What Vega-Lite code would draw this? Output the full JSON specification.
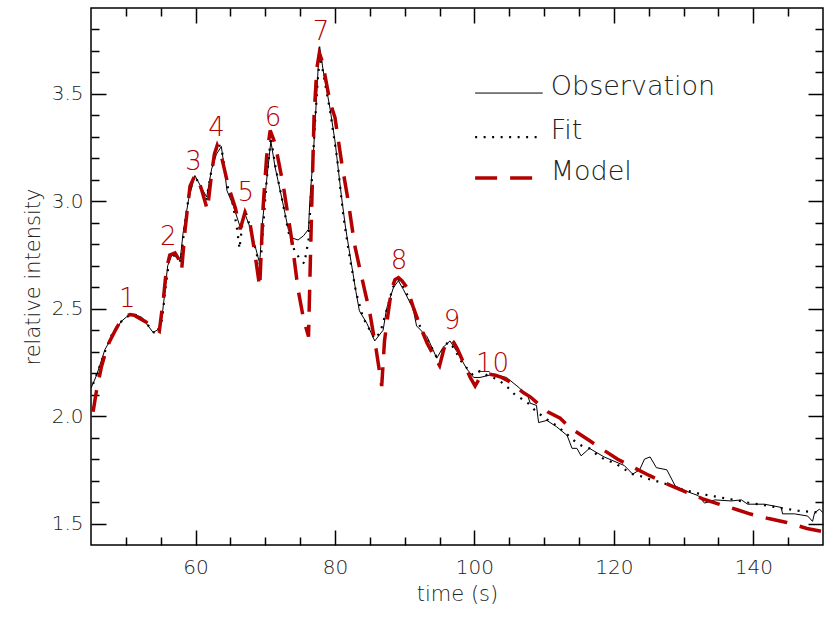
{
  "$schema": "https://vega.github.io/schema/vega-lite/v6.json",
  "width": 732,
  "height": 537,
  "autosize": {"type": "none"},
  "padding": {"left": 91, "top": 8, "right": 3, "bottom": 72},
  "background": "white",
  "config": {
    "view": {"stroke": "#000", "strokeWidth": 1.5},
    "axis": {"domain": false, "grid": false, "ticks": true, "zindex": 1, "tickColor": "#000", "tickWidth": 1.5,
      "labelFont": "DejaVu Sans", "labelFontWeight": 200, "labelFontSize": 20, "labelColor": "#222",
      "titleFont": "DejaVu Sans", "titleFontWeight": 200, "titleFontSize": 21, "titleColor": "#222"}
  },
  "datasets": {
    "obs": [
      {"t": 45.0, "v": 2.13}, {"t": 45.8, "v": 2.19}, {"t": 47.0, "v": 2.31}, {"t": 47.7, "v": 2.35},
      {"t": 48.6, "v": 2.40}, {"t": 49.3, "v": 2.44}, {"t": 50.4, "v": 2.47}, {"t": 51.5, "v": 2.47},
      {"t": 52.3, "v": 2.46}, {"t": 53.2, "v": 2.42}, {"t": 53.9, "v": 2.39}, {"t": 54.5, "v": 2.40},
      {"t": 55.1, "v": 2.44}, {"t": 55.5, "v": 2.55}, {"t": 56.0, "v": 2.70}, {"t": 56.6, "v": 2.75},
      {"t": 57.3, "v": 2.74}, {"t": 57.8, "v": 2.73}, {"t": 58.2, "v": 2.85}, {"t": 59.0, "v": 3.01},
      {"t": 59.9, "v": 3.12}, {"t": 60.9, "v": 3.06}, {"t": 61.6, "v": 3.02}, {"t": 62.3, "v": 3.15},
      {"t": 63.0, "v": 3.22}, {"t": 63.7, "v": 3.255}, {"t": 64.1, "v": 3.16}, {"t": 64.5, "v": 3.05},
      {"t": 65.4, "v": 2.98}, {"t": 66.4, "v": 2.88}, {"t": 67.1, "v": 2.94}, {"t": 67.8, "v": 2.88},
      {"t": 68.8, "v": 2.76}, {"t": 69.2, "v": 2.71}, {"t": 69.5, "v": 2.87}, {"t": 70.2, "v": 3.10},
      {"t": 70.8, "v": 3.28}, {"t": 71.4, "v": 3.16}, {"t": 72.4, "v": 3.01}, {"t": 73.3, "v": 2.87},
      {"t": 73.8, "v": 2.83}, {"t": 74.7, "v": 2.82}, {"t": 75.5, "v": 2.84}, {"t": 76.2, "v": 2.87},
      {"t": 76.4, "v": 3.01}, {"t": 76.9, "v": 3.22}, {"t": 77.6, "v": 3.63}, {"t": 77.8, "v": 3.72},
      {"t": 78.3, "v": 3.61}, {"t": 79.3, "v": 3.43}, {"t": 80.0, "v": 3.28}, {"t": 80.9, "v": 3.03},
      {"t": 81.5, "v": 2.88}, {"t": 82.3, "v": 2.72}, {"t": 83.0, "v": 2.58}, {"t": 83.5, "v": 2.49},
      {"t": 84.6, "v": 2.43}, {"t": 85.7, "v": 2.35}, {"t": 86.9, "v": 2.40}, {"t": 87.4, "v": 2.50},
      {"t": 88.4, "v": 2.60}, {"t": 89.1, "v": 2.63}, {"t": 89.8, "v": 2.59}, {"t": 91.2, "v": 2.50},
      {"t": 91.7, "v": 2.42}, {"t": 93.2, "v": 2.37}, {"t": 94.6, "v": 2.27}, {"t": 95.5, "v": 2.32},
      {"t": 96.5, "v": 2.35}, {"t": 97.5, "v": 2.30}, {"t": 98.9, "v": 2.22}, {"t": 99.9, "v": 2.18},
      {"t": 100.8, "v": 2.18}, {"t": 102.7, "v": 2.195}, {"t": 104.6, "v": 2.18}, {"t": 106.5, "v": 2.13},
      {"t": 107.7, "v": 2.09}, {"t": 108.0, "v": 2.06}, {"t": 108.9, "v": 2.05}, {"t": 109.2, "v": 1.97},
      {"t": 110.4, "v": 1.98}, {"t": 111.8, "v": 1.95}, {"t": 113.3, "v": 1.91}, {"t": 114.0, "v": 1.85},
      {"t": 114.7, "v": 1.85}, {"t": 115.3, "v": 1.815}, {"t": 116.5, "v": 1.85}, {"t": 118.6, "v": 1.81},
      {"t": 121.5, "v": 1.77}, {"t": 122.7, "v": 1.73}, {"t": 123.7, "v": 1.75}, {"t": 124.4, "v": 1.80},
      {"t": 125.2, "v": 1.81}, {"t": 126.1, "v": 1.76}, {"t": 127.6, "v": 1.75}, {"t": 128.8, "v": 1.675},
      {"t": 130.4, "v": 1.65}, {"t": 132.1, "v": 1.63}, {"t": 133.0, "v": 1.595}, {"t": 134.5, "v": 1.61},
      {"t": 136.8, "v": 1.605}, {"t": 138.3, "v": 1.61}, {"t": 139.2, "v": 1.59}, {"t": 141.6, "v": 1.59},
      {"t": 144.0, "v": 1.575}, {"t": 144.2, "v": 1.545}, {"t": 145.9, "v": 1.545}, {"t": 147.8, "v": 1.535},
      {"t": 148.5, "v": 1.51}, {"t": 148.8, "v": 1.55}, {"t": 149.5, "v": 1.567}, {"t": 150.0, "v": 1.55}
    ],
    "fit": [
      {"t": 45.3, "v": 2.15}, {"t": 46.0, "v": 2.21}, {"t": 47.0, "v": 2.30}, {"t": 48.0, "v": 2.38},
      {"t": 49.0, "v": 2.43}, {"t": 50.0, "v": 2.46}, {"t": 51.0, "v": 2.475}, {"t": 52.0, "v": 2.465},
      {"t": 53.0, "v": 2.43}, {"t": 54.0, "v": 2.39}, {"t": 54.5, "v": 2.385}, {"t": 55.2, "v": 2.45},
      {"t": 55.7, "v": 2.60}, {"t": 56.2, "v": 2.72}, {"t": 56.8, "v": 2.75}, {"t": 57.5, "v": 2.73},
      {"t": 57.9, "v": 2.72}, {"t": 58.4, "v": 2.88}, {"t": 59.1, "v": 3.04}, {"t": 59.9, "v": 3.12},
      {"t": 60.8, "v": 3.06}, {"t": 61.5, "v": 3.00}, {"t": 62.2, "v": 3.13}, {"t": 62.8, "v": 3.22},
      {"t": 63.3, "v": 3.27}, {"t": 63.8, "v": 3.23}, {"t": 64.5, "v": 3.08}, {"t": 65.4, "v": 2.98},
      {"t": 66.0, "v": 2.86}, {"t": 66.3, "v": 2.78}, {"t": 66.8, "v": 2.92}, {"t": 67.2, "v": 2.95},
      {"t": 67.8, "v": 2.88}, {"t": 68.8, "v": 2.75}, {"t": 69.3, "v": 2.70}, {"t": 69.7, "v": 2.88},
      {"t": 70.2, "v": 3.10}, {"t": 70.8, "v": 3.30}, {"t": 71.4, "v": 3.17}, {"t": 72.4, "v": 3.01},
      {"t": 73.3, "v": 2.86}, {"t": 74.2, "v": 2.77}, {"t": 75.0, "v": 2.73}, {"t": 75.6, "v": 2.71},
      {"t": 76.2, "v": 2.82}, {"t": 76.6, "v": 3.05}, {"t": 77.1, "v": 3.35}, {"t": 77.6, "v": 3.60},
      {"t": 77.9, "v": 3.67}, {"t": 78.4, "v": 3.58}, {"t": 79.3, "v": 3.42}, {"t": 80.3, "v": 3.20},
      {"t": 81.2, "v": 2.93}, {"t": 82.0, "v": 2.76}, {"t": 83.0, "v": 2.58}, {"t": 84.0, "v": 2.46},
      {"t": 85.0, "v": 2.40}, {"t": 85.7, "v": 2.36}, {"t": 86.5, "v": 2.39}, {"t": 87.2, "v": 2.47},
      {"t": 88.3, "v": 2.60}, {"t": 89.2, "v": 2.635}, {"t": 90.0, "v": 2.59}, {"t": 91.0, "v": 2.52},
      {"t": 92.0, "v": 2.43}, {"t": 93.2, "v": 2.36}, {"t": 94.5, "v": 2.28}, {"t": 95.3, "v": 2.30},
      {"t": 96.2, "v": 2.345}, {"t": 97.0, "v": 2.32}, {"t": 98.0, "v": 2.26}, {"t": 99.0, "v": 2.22},
      {"t": 99.8, "v": 2.19}, {"t": 100.8, "v": 2.21}, {"t": 101.8, "v": 2.19}, {"t": 103.0, "v": 2.175},
      {"t": 104.0, "v": 2.155}, {"t": 104.9, "v": 2.13}, {"t": 105.8, "v": 2.10}, {"t": 106.8, "v": 2.08},
      {"t": 107.7, "v": 2.06}, {"t": 108.9, "v": 2.02}, {"t": 110.4, "v": 1.985}, {"t": 111.8, "v": 1.955},
      {"t": 113.3, "v": 1.915}, {"t": 114.5, "v": 1.88}, {"t": 115.5, "v": 1.86}, {"t": 116.5, "v": 1.85},
      {"t": 117.6, "v": 1.82}, {"t": 118.6, "v": 1.80}, {"t": 119.8, "v": 1.785}, {"t": 120.7, "v": 1.77},
      {"t": 121.9, "v": 1.745}, {"t": 122.7, "v": 1.73}, {"t": 123.9, "v": 1.72}, {"t": 125.2, "v": 1.705},
      {"t": 126.4, "v": 1.695}, {"t": 127.6, "v": 1.683}, {"t": 129.7, "v": 1.66}, {"t": 132.1, "v": 1.64},
      {"t": 134.5, "v": 1.626}, {"t": 136.8, "v": 1.613}, {"t": 139.2, "v": 1.598}, {"t": 141.6, "v": 1.585},
      {"t": 144.0, "v": 1.572}, {"t": 146.4, "v": 1.56}, {"t": 148.8, "v": 1.553}, {"t": 150.0, "v": 1.55}
    ],
    "model": [
      {"t": 45.3, "v": 2.02}, {"t": 45.8, "v": 2.12}, {"t": 46.5, "v": 2.23}, {"t": 47.2, "v": 2.31},
      {"t": 47.7, "v": 2.35}, {"t": 48.5, "v": 2.40}, {"t": 49.2, "v": 2.44}, {"t": 50.0, "v": 2.465},
      {"t": 50.6, "v": 2.473}, {"t": 51.2, "v": 2.47}, {"t": 51.8, "v": 2.458}, {"t": 52.8, "v": 2.44},
      {"t": 53.7, "v": 2.42}, {"t": 54.8, "v": 2.395}, {"t": 55.4, "v": 2.55}, {"t": 55.8, "v": 2.68},
      {"t": 56.3, "v": 2.75}, {"t": 57.05, "v": 2.76}, {"t": 57.6, "v": 2.73}, {"t": 58.0, "v": 2.68},
      {"t": 58.5, "v": 2.87}, {"t": 59.2, "v": 3.07}, {"t": 59.9, "v": 3.12}, {"t": 60.4, "v": 3.10},
      {"t": 60.9, "v": 3.05}, {"t": 61.7, "v": 2.96}, {"t": 62.3, "v": 3.13}, {"t": 62.7, "v": 3.22},
      {"t": 63.1, "v": 3.26}, {"t": 63.7, "v": 3.21}, {"t": 64.7, "v": 3.07}, {"t": 65.7, "v": 2.97},
      {"t": 66.4, "v": 2.87}, {"t": 67.1, "v": 2.95}, {"t": 67.8, "v": 2.90}, {"t": 68.5, "v": 2.76},
      {"t": 69.2, "v": 2.60}, {"t": 69.7, "v": 2.98}, {"t": 70.2, "v": 3.21}, {"t": 70.7, "v": 3.33},
      {"t": 71.4, "v": 3.27}, {"t": 72.6, "v": 3.07}, {"t": 73.8, "v": 2.82}, {"t": 74.7, "v": 2.59},
      {"t": 75.5, "v": 2.45}, {"t": 76.2, "v": 2.37}, {"t": 76.6, "v": 2.90}, {"t": 77.0, "v": 3.40},
      {"t": 77.4, "v": 3.62}, {"t": 77.75, "v": 3.69}, {"t": 78.2, "v": 3.65}, {"t": 78.6, "v": 3.58},
      {"t": 79.3, "v": 3.46}, {"t": 80.0, "v": 3.39}, {"t": 81.0, "v": 3.17}, {"t": 81.9, "v": 3.00},
      {"t": 82.8, "v": 2.80}, {"t": 83.6, "v": 2.68}, {"t": 84.3, "v": 2.58}, {"t": 85.0, "v": 2.48},
      {"t": 85.9, "v": 2.31}, {"t": 86.7, "v": 2.14}, {"t": 87.1, "v": 2.35}, {"t": 87.5, "v": 2.45},
      {"t": 88.1, "v": 2.59}, {"t": 88.6, "v": 2.635}, {"t": 89.1, "v": 2.645}, {"t": 89.6, "v": 2.63},
      {"t": 90.3, "v": 2.60}, {"t": 91.2, "v": 2.51}, {"t": 92.2, "v": 2.42}, {"t": 93.2, "v": 2.34},
      {"t": 94.2, "v": 2.28}, {"t": 95.0, "v": 2.235}, {"t": 95.6, "v": 2.31}, {"t": 96.0, "v": 2.345},
      {"t": 96.5, "v": 2.357}, {"t": 97.0, "v": 2.345}, {"t": 97.6, "v": 2.31}, {"t": 98.7, "v": 2.23},
      {"t": 99.4, "v": 2.18}, {"t": 100.1, "v": 2.14}, {"t": 100.8, "v": 2.18}, {"t": 101.5, "v": 2.19},
      {"t": 102.2, "v": 2.195}, {"t": 103.0, "v": 2.19}, {"t": 103.9, "v": 2.18}, {"t": 104.8, "v": 2.165},
      {"t": 105.6, "v": 2.148}, {"t": 107.0, "v": 2.11}, {"t": 108.0, "v": 2.09}, {"t": 109.4, "v": 2.05},
      {"t": 110.5, "v": 2.02}, {"t": 112.3, "v": 1.99}, {"t": 113.7, "v": 1.946}, {"t": 116.6, "v": 1.884},
      {"t": 118.0, "v": 1.853}, {"t": 120.5, "v": 1.80}, {"t": 123.3, "v": 1.753}, {"t": 125.0, "v": 1.725},
      {"t": 128.1, "v": 1.678}, {"t": 130.5, "v": 1.645}, {"t": 132.9, "v": 1.613}, {"t": 135.3, "v": 1.588},
      {"t": 137.7, "v": 1.564}, {"t": 139.6, "v": 1.544}, {"t": 142.2, "v": 1.523}, {"t": 144.8, "v": 1.505},
      {"t": 147.7, "v": 1.477}, {"t": 150.0, "v": 1.462}
    ],
    "peaks": [
      {"t": 50.2, "v": 2.543, "label": "1"}, {"t": 56.1, "v": 2.835, "label": "2"},
      {"t": 59.7, "v": 3.184, "label": "3"}, {"t": 63.0, "v": 3.34, "label": "4"},
      {"t": 67.2, "v": 3.04, "label": "5"}, {"t": 71.1, "v": 3.39, "label": "6"},
      {"t": 78.0, "v": 3.79, "label": "7"}, {"t": 89.2, "v": 2.72, "label": "8"},
      {"t": 96.8, "v": 2.441, "label": "9"}, {"t": 102.6, "v": 2.241, "label": "10"}
    ],
    "legend": [
      {"series": "Observation", "t": 100.1, "t2": 109.8, "v": 3.504},
      {"series": "Fit", "t": 100.1, "t2": 109.8, "v": 3.299},
      {"series": "Model", "t": 100.1, "t2": 109.8, "v": 3.109}
    ]
  },
  "layer": [
    {
      "data": {"name": "obs"},
      "mark": {"type": "line", "clip": true, "color": "#000000", "strokeWidth": 1},
      "encoding": {
        "x": {"field": "t", "type": "quantitative",
              "scale": {"domain": [45, 150], "nice": false, "zero": false},
              "axis": {"orient": "bottom", "values": [60, 80, 100, 120, 140], "format": "d", "offset": -15, "tickSize": 15, "labelPadding": 12, "title": "time (s)", "titlePadding": 6}},
        "y": {"field": "v", "type": "quantitative",
              "scale": {"domain": [1.4, 3.9], "nice": false, "zero": false},
              "axis": {"orient": "left", "values": [1.5, 2.0, 2.5, 3.0, 3.5], "format": ".1f", "offset": -15, "tickSize": 15, "labelPadding": 8, "title": "relative intensity", "titlePadding": 8}}
      }
    },
    {
      "data": {"name": "fit"},
      "mark": {"type": "line", "clip": true, "color": "#000000", "strokeWidth": 2.2, "strokeDash": [2, 6.5]},
      "encoding": {
        "x": {"field": "t", "type": "quantitative",
              "axis": {"orient": "top", "values": [60, 80, 100, 120, 140], "labels": false, "offset": -15, "tickSize": 15, "title": null}},
        "y": {"field": "v", "type": "quantitative",
              "axis": {"orient": "right", "values": [1.5, 2.0, 2.5, 3.0, 3.5], "labels": false, "offset": -15, "tickSize": 15, "title": null}}
      }
    },
    {
      "data": {"name": "model"},
      "mark": {"type": "line", "clip": true, "color": "#b40000", "strokeWidth": 3.5, "strokeDash": [22, 13]},
      "encoding": {
        "x": {"field": "t", "type": "quantitative",
              "axis": {"orient": "top", "values": [50, 55, 65, 70, 75, 85, 90, 95, 105, 110, 115, 125, 130, 135, 145], "labels": false, "offset": -8, "tickSize": 8, "title": null}},
        "y": {"field": "v", "type": "quantitative",
              "axis": {"orient": "right", "values": [1.6, 1.7, 1.8, 1.9, 2.1, 2.2, 2.3, 2.4, 2.6, 2.7, 2.8, 2.9, 3.1, 3.2, 3.3, 3.4, 3.6, 3.7, 3.8], "labels": false, "offset": -8, "tickSize": 8, "title": null}}
      }
    },
    {
      "data": {"name": "peaks"},
      "mark": {"type": "text", "font": "DejaVu Sans", "fontSize": 26, "fontWeight": 200, "color": "#b40000", "align": "center", "baseline": "middle"},
      "encoding": {
        "x": {"field": "t", "type": "quantitative",
              "axis": {"orient": "bottom", "values": [50, 55, 65, 70, 75, 85, 90, 95, 105, 110, 115, 125, 130, 135, 145], "labels": false, "offset": -8, "tickSize": 8, "title": null}},
        "y": {"field": "v", "type": "quantitative",
              "axis": {"orient": "left", "values": [1.6, 1.7, 1.8, 1.9, 2.1, 2.2, 2.3, 2.4, 2.6, 2.7, 2.8, 2.9, 3.1, 3.2, 3.3, 3.4, 3.6, 3.7, 3.8], "labels": false, "offset": -8, "tickSize": 8, "title": null}},
        "text": {"field": "label"}
      }
    },
    {
      "data": {"name": "legend"},
      "transform": [{"filter": "datum.series === 'Observation'"}],
      "mark": {"type": "rule", "color": "#000000", "strokeWidth": 1},
      "encoding": {
        "x": {"field": "t", "type": "quantitative", "axis": null},
        "x2": {"field": "t2"},
        "y": {"field": "v", "type": "quantitative", "axis": null}
      }
    },
    {
      "data": {"name": "legend"},
      "transform": [{"filter": "datum.series === 'Fit'"}],
      "mark": {"type": "rule", "color": "#000000", "strokeWidth": 2.2, "strokeDash": [2, 6.5]},
      "encoding": {
        "x": {"field": "t", "type": "quantitative", "axis": null},
        "x2": {"field": "t2"},
        "y": {"field": "v", "type": "quantitative", "axis": null}
      }
    },
    {
      "data": {"name": "legend"},
      "transform": [{"filter": "datum.series === 'Model'"}],
      "mark": {"type": "rule", "color": "#b40000", "strokeWidth": 3.5, "strokeDash": [22, 13]},
      "encoding": {
        "x": {"field": "t", "type": "quantitative", "axis": null},
        "x2": {"field": "t2"},
        "y": {"field": "v", "type": "quantitative", "axis": null}
      }
    },
    {
      "data": {"name": "legend"},
      "mark": {"type": "text", "font": "DejaVu Sans", "fontSize": 27, "fontWeight": 200, "color": "#222", "align": "left", "baseline": "alphabetic", "dx": 8, "dy": 2},
      "encoding": {
        "x": {"field": "t2", "type": "quantitative", "axis": null},
        "y": {"field": "v", "type": "quantitative", "axis": null},
        "text": {"field": "series"}
      }
    }
  ],
  "resolve": {"axis": {"x": "independent", "y": "independent"}}
}
